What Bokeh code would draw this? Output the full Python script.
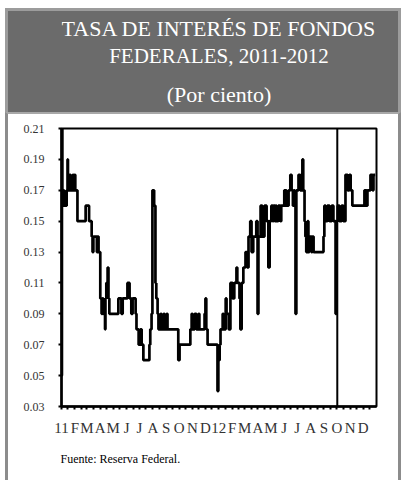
import pandas as pd
from bokeh.plotting import figure
from bokeh.models import ColumnDataSource, FixedTicker, Span, Title, Range1d, NumeralTickFormatter
from bokeh.layouts import column
from bokeh.embed import file_html
from bokeh.resources import INLINE
from bokeh.core.properties import value

# ---------------- data ----------------
title_lines = ["TASA DE INTERÉS DE FONDOS", "FEDERALES, 2011-2012", "(Por ciento)"]
source_note = "Fuente:  Reserva Federal."

dates = [
    "2011-01-01", "2011-01-02", "2011-01-03", "2011-01-07", "2011-01-13", "2011-01-15", "2011-01-16",
    "2011-01-20", "2011-01-22", "2011-01-27", "2011-01-29", "2011-01-31", "2011-02-02", "2011-02-07",
    "2011-02-26", "2011-03-06", "2011-03-12", "2011-03-14", "2011-03-16", "2011-03-24", "2011-03-26",
    "2011-03-28", "2011-04-01", "2011-04-04", "2011-04-06", "2011-04-08", "2011-04-12", "2011-04-13",
    "2011-04-15", "2011-04-18", "2011-04-20", "2011-04-22", "2011-05-13", "2011-05-20", "2011-05-23",
    "2011-06-03", "2011-06-08", "2011-06-12", "2011-06-15", "2011-06-22", "2011-06-24", "2011-06-29",
    "2011-07-03", "2011-07-06", "2011-07-10", "2011-07-24", "2011-07-26", "2011-07-29", "2011-07-31",
    "2011-08-04", "2011-08-07", "2011-08-09", "2011-08-12", "2011-08-14", "2011-08-19", "2011-08-21",
    "2011-08-26", "2011-08-28", "2011-09-02", "2011-09-04", "2011-09-29", "2011-10-02", "2011-10-27",
    "2011-10-30", "2011-11-01", "2011-11-06", "2011-11-10", "2011-11-15", "2011-11-17", "2011-11-29",
    "2011-12-01", "2011-12-03", "2011-12-06", "2011-12-29", "2011-12-31",
    "2012-01-03", "2012-01-05", "2012-01-10", "2012-01-12", "2012-01-17", "2012-01-19", "2012-01-24",
    "2012-01-28", "2012-02-02", "2012-02-06", "2012-02-11", "2012-02-13", "2012-02-18", "2012-02-20",
    "2012-02-23", "2012-02-27", "2012-03-03", "2012-03-07", "2012-03-10", "2012-03-14", "2012-03-17",
    "2012-03-21", "2012-03-28", "2012-03-31", "2012-04-02", "2012-04-07", "2012-04-11", "2012-04-16",
    "2012-04-21", "2012-04-25", "2012-04-28", "2012-05-02", "2012-05-05", "2012-05-07", "2012-05-10",
    "2012-05-12", "2012-05-14", "2012-05-18", "2012-05-23",
    "2012-05-25", "2012-06-01", "2012-06-06", "2012-06-11", "2012-06-15", "2012-06-18", "2012-06-21",
    "2012-06-23", "2012-06-25", "2012-06-27",
    "2012-06-29", "2012-07-04", "2012-07-08", "2012-07-13", "2012-07-15", "2012-07-18", "2012-07-20",
    "2012-07-22", "2012-07-25", "2012-07-27", "2012-07-29", "2012-08-03", "2012-08-05", "2012-08-08",
    "2012-08-31", "2012-09-02", "2012-09-05", "2012-09-09", "2012-09-14", "2012-09-19", "2012-09-23",
    "2012-09-28", "2012-09-30", "2012-10-03", "2012-10-07", "2012-10-12", "2012-10-16", "2012-10-21",
    "2012-10-26", "2012-10-30", "2012-11-02", "2012-11-06", "2012-12-04", "2012-12-09", "2012-12-11",
    "2012-12-18", "2012-12-23", "2012-12-25", "2012-12-29",
]
rates = [
    0.05, 0.21, 0.17, 0.16, 0.17, 0.19, 0.17,
    0.18, 0.17, 0.18, 0.17, 0.18, 0.17, 0.15,
    0.16, 0.15, 0.14, 0.13, 0.14, 0.13, 0.14,
    0.13, 0.10, 0.09, 0.10, 0.09, 0.08, 0.10,
    0.11, 0.12, 0.10, 0.09, 0.10, 0.09, 0.10,
    0.11, 0.10, 0.09, 0.10, 0.09, 0.08, 0.07,
    0.08, 0.07, 0.06, 0.07, 0.08, 0.09, 0.17,
    0.16, 0.11, 0.10, 0.09, 0.08, 0.09, 0.08,
    0.09, 0.08, 0.09, 0.08, 0.06, 0.07, 0.08,
    0.09, 0.08, 0.09, 0.08, 0.09, 0.08, 0.09,
    0.10, 0.08, 0.07, 0.04, 0.06,
    0.07, 0.08, 0.09, 0.08, 0.10, 0.09, 0.08,
    0.11, 0.10, 0.11, 0.12, 0.11, 0.10, 0.08,
    0.11, 0.12, 0.13, 0.12, 0.14, 0.15, 0.13,
    0.14, 0.15, 0.09, 0.14, 0.16, 0.14, 0.16,
    0.15, 0.12, 0.15, 0.16, 0.15, 0.16, 0.15,
    0.16, 0.15, 0.16, 0.15,
    0.16, 0.17, 0.16, 0.17, 0.18, 0.17, 0.16,
    0.17, 0.16, 0.09,
    0.17, 0.18, 0.17, 0.19, 0.17, 0.15, 0.14,
    0.13, 0.15, 0.13, 0.14, 0.13, 0.14, 0.13,
    0.14, 0.16, 0.15, 0.16, 0.15, 0.16, 0.15,
    0.09, 0.15, 0.16, 0.15, 0.16, 0.15, 0.18,
    0.17, 0.18, 0.17, 0.16, 0.17, 0.16, 0.17,
    0.18, 0.17, 0.18, 0.18,
]
month_labels = ["11", "F", "M", "A", "M", "J", "J", "A", "S", "O", "N", "D",
                "12", "F", "M", "A", "M", "J", "J", "A", "S", "O", "N", "D"]
y_ticks = [0.03, 0.05, 0.07, 0.09, 0.11, 0.13, 0.15, 0.17, 0.19, 0.21]
marker_date = "2012-10-02"
x_start, x_end = "2011-01-01", "2013-01-01"

# ---------------- helpers ----------------
def ms(d):
    return float(pd.Timestamp(d).value // 10**6)

src = ColumnDataSource(dict(date=pd.to_datetime(dates), rate=rates))
month_starts = pd.date_range(x_start, periods=len(month_labels), freq="MS")
mid_months = month_starts + pd.Timedelta(days=15)
major = [ms(d) for d in month_starts]
minor = [ms(d) for d in mid_months]

SERIF = value("Liberation Serif")
W = 396
BAND = "#6b6b6b"

# ---------------- title band ----------------
t = figure(width=W, height=104, x_range=Range1d(0, 1), y_range=Range1d(0, 1),
           output_backend="svg", toolbar_location=None,
           min_border_left=0, min_border_right=0, min_border_top=0, min_border_bottom=0,
           x_axis_location=None, y_axis_location=None,
           background_fill_color=BAND, border_fill_color=BAND,
           background_fill_alpha=0, border_fill_alpha=0,
           outline_line_color=None)
t.grid.visible = False
t.text(x=[0.5, 0.5, 0.5], y=[0.835, 0.575, 0.2], text=title_lines,
       text_align="center", text_baseline="middle", text_color="white",
       text_font=SERIF, text_font_size=["22px", "21px", "22px"])
t.styles = {"background-color": BAND,
            "border-top": "3px solid #9c9c9c", "border-left": "3px solid #9c9c9c",
            "border-right": "3px solid #9c9c9c"}

# ---------------- main plot ----------------
p = figure(width=W, height=368, x_axis_type="datetime",
           x_range=Range1d(ms(x_start), ms(x_end)), y_range=Range1d(0.03, 0.21),
           output_backend="svg", toolbar_location=None,
           min_border_left=53, min_border_right=28, min_border_top=14, min_border_bottom=76,
           background_fill_color="white", border_fill_color="white",
           outline_line_color="black", outline_line_width=2)
p.grid.visible = False

p.step(x="date", y="rate", source=src, mode="after", line_color="black", line_width=2.7)
p.add_layout(Span(location=ms(marker_date), dimension="height", line_color="black", line_width=2))

xa = p.xaxis[0]
xa.ticker = FixedTicker(ticks=major, minor_ticks=minor)
xa.major_label_overrides = {k: lab for k, lab in zip(major, month_labels)}
xa.major_label_text_font = "Liberation Serif"
xa.major_label_text_font_size = "15px"
xa.major_label_text_color = "#333333"
xa.major_label_standoff = 10

ya = p.yaxis[0]
ya.ticker = FixedTicker(ticks=y_ticks)
ya.formatter = NumeralTickFormatter(format="0.00")
ya.major_label_text_font = "Liberation Serif"
ya.major_label_text_font_size = "12px"
ya.major_label_text_color = "#333333"
ya.major_label_standoff = 14

for ax in (xa, ya):
    ax.axis_line_width = 2.5
    ax.axis_line_color = "black"
    ax.major_tick_in = 0
    ax.major_tick_out = 3
    ax.major_tick_line_width = 2
    ax.minor_tick_in = 0
    ax.minor_tick_out = 3
    ax.minor_tick_line_width = 2

p.add_layout(Title(text=source_note, align="left", offset=-1, standoff=22,
                   text_font="Liberation Serif", text_font_size="12px",
                   text_font_style="normal", text_color="black"), "below")
p.styles = {"border-left": "3px solid #8c8c8c", "border-right": "3px solid #8c8c8c",
            "border-top": "2px solid #a8a8a8"}

layout = column(t, p, spacing=0, margin=(8, 0, 0, 5))
open("out.html", "w").write(file_html(layout, INLINE))
